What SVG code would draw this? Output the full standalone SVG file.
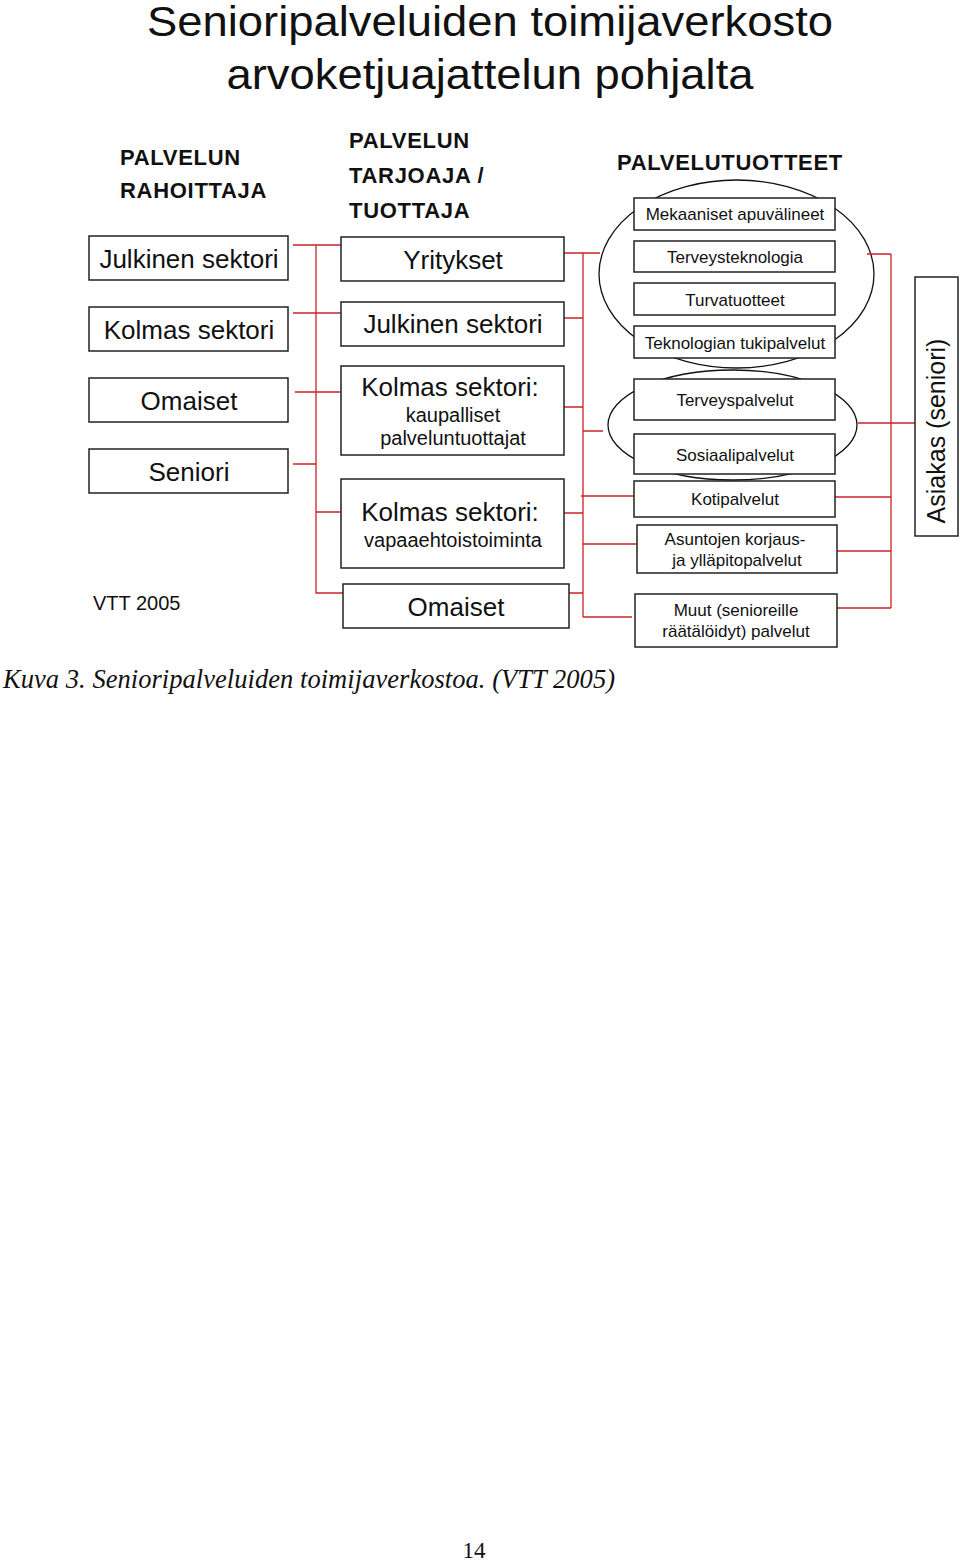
<svg xmlns="http://www.w3.org/2000/svg" width="960" height="1562" viewBox="0 0 960 1562">
<style>
.bx{fill:#fff;stroke:#222;stroke-width:1.5}
.el{fill:none;stroke:#111;stroke-width:1.3}
.t{font-family:"Liberation Sans",Arial,sans-serif;fill:#111;text-anchor:middle}
.b{font-size:26px}
.s{font-size:20px}
.r{font-size:17px}
.h{font-family:"Liberation Sans",Arial,sans-serif;font-weight:bold;font-size:22px;letter-spacing:0.7px;fill:#111}
.c{fill:none;stroke:#cc2229;stroke-width:1.3}
</style>
<rect width="960" height="1562" fill="#fff"/>
<g id="title">
<text class="t" x="490" y="36" font-size="43" textLength="686" lengthAdjust="spacingAndGlyphs">Senioripalveluiden toimijaverkosto</text>
<text class="t" x="490" y="89" font-size="43" textLength="527" lengthAdjust="spacingAndGlyphs">arvoketjuajattelun pohjalta</text>
</g>
<g id="headers">
<text class="h" x="120" y="165">PALVELUN</text>
<text class="h" x="120" y="198">RAHOITTAJA</text>
<text class="h" x="349" y="148">PALVELUN</text>
<text class="h" x="349" y="183">TARJOAJA /</text>
<text class="h" x="349" y="218">TUOTTAJA</text>
<text class="h" x="617" y="170">PALVELUTUOTTEET</text>
</g>
<g id="ellipses">
<ellipse class="el" cx="736.5" cy="274" rx="137.5" ry="94"/>
<ellipse class="el" cx="732.5" cy="425" rx="124.5" ry="55"/>
</g>
<g id="connectors">
<path class="c" d="M293 245H341M293 313H341M295 392H343M293 464H316M316 512H341M316 245V593H343"/>
<path class="c" d="M564 253H600M564 318H583M564 407H583M564 513H583M569 593H583M583 431H603M581 496H638M583 544H640M583 617H632M583 253V617"/>
<path class="c" d="M867 254H891M835 497H891M835 551H891M837 608H891M891 254V608M858 423H915"/>
</g>
<g id="n-julkinen-l"><rect class="bx" x="89" y="236" width="199" height="44"/><text class="t b" x="189" y="268">Julkinen sektori</text></g>
<g id="n-kolmas-l"><rect class="bx" x="89" y="307" width="199" height="44"/><text class="t b" x="189" y="339">Kolmas sektori</text></g>
<g id="n-omaiset-l"><rect class="bx" x="89" y="378" width="199" height="44"/><text class="t b" x="189" y="410">Omaiset</text></g>
<g id="n-seniori-l"><rect class="bx" x="89" y="449" width="199" height="44"/><text class="t b" x="189" y="481">Seniori</text></g>
<g id="n-yritykset"><rect class="bx" x="341" y="237" width="223" height="44"/><text class="t b" x="453" y="269">Yritykset</text></g>
<g id="n-julkinen-m"><rect class="bx" x="341" y="302" width="223" height="44"/><text class="t b" x="453" y="333">Julkinen sektori</text></g>
<g id="n-kaupalliset"><rect class="bx" x="341" y="366" width="223" height="89"/><text class="t b" x="450" y="396">Kolmas sektori:</text><text class="t s" x="453" y="422">kaupalliset</text><text class="t s" x="453" y="445">palveluntuottajat</text></g>
<g id="n-vapaaehtois"><rect class="bx" x="341" y="479" width="223" height="89"/><text class="t b" x="450" y="521">Kolmas sektori:</text><text class="t s" x="453" y="547">vapaaehtoistoiminta</text></g>
<g id="n-omaiset-m"><rect class="bx" x="343" y="584" width="226" height="44"/><text class="t b" x="456" y="616">Omaiset</text></g>
<g id="n-mekaaniset"><rect class="bx" x="634" y="198" width="201" height="32"/><text class="t r" x="735" y="220">Mekaaniset apuvälineet</text></g>
<g id="n-terveystek"><rect class="bx" x="634" y="241" width="201" height="31"/><text class="t r" x="735" y="263">Terveysteknologia</text></g>
<g id="n-turva"><rect class="bx" x="634" y="283" width="201" height="32"/><text class="t r" x="735" y="306">Turvatuotteet</text></g>
<g id="n-teknologian"><rect class="bx" x="634" y="326" width="201" height="32"/><text class="t r" x="735" y="349">Teknologian tukipalvelut</text></g>
<g id="n-terveyspalvelut"><rect class="bx" x="634" y="379" width="201" height="41"/><text class="t r" x="735" y="406">Terveyspalvelut</text></g>
<g id="n-sosiaali"><rect class="bx" x="634" y="434" width="201" height="40"/><text class="t r" x="735" y="461">Sosiaalipalvelut</text></g>
<g id="n-koti"><rect class="bx" x="634" y="481" width="201" height="36"/><text class="t r" x="735" y="505">Kotipalvelut</text></g>
<g id="n-asuntojen"><rect class="bx" x="637" y="525" width="200" height="48"/><text class="t r" x="735" y="545">Asuntojen korjaus-</text><text class="t r" x="737" y="566">ja ylläpitopalvelut</text></g>
<g id="n-muut"><rect class="bx" x="635" y="594" width="202" height="53"/><text class="t r" x="736" y="616">Muut (senioreille</text><text class="t r" x="736" y="637">räätälöidyt) palvelut</text></g>
<g id="n-asiakas"><rect class="bx" x="915" y="277" width="43" height="259"/><text class="t" x="0" y="0" font-size="25" transform="translate(945,431) rotate(-90)">Asiakas (seniori)</text></g>
<text x="93" y="610" font-family="Liberation Sans,Arial,sans-serif" font-size="20" fill="#111">VTT 2005</text>
<text x="3" y="688" font-family="Liberation Serif,Times New Roman,serif" font-style="italic" font-size="26.5" fill="#111" textLength="612">Kuva 3. Senioripalveluiden toimijaverkostoa. (VTT 2005)</text>
<text x="474" y="1558" font-family="Liberation Serif,Times New Roman,serif" font-size="23" fill="#111" text-anchor="middle">14</text>
</svg>
